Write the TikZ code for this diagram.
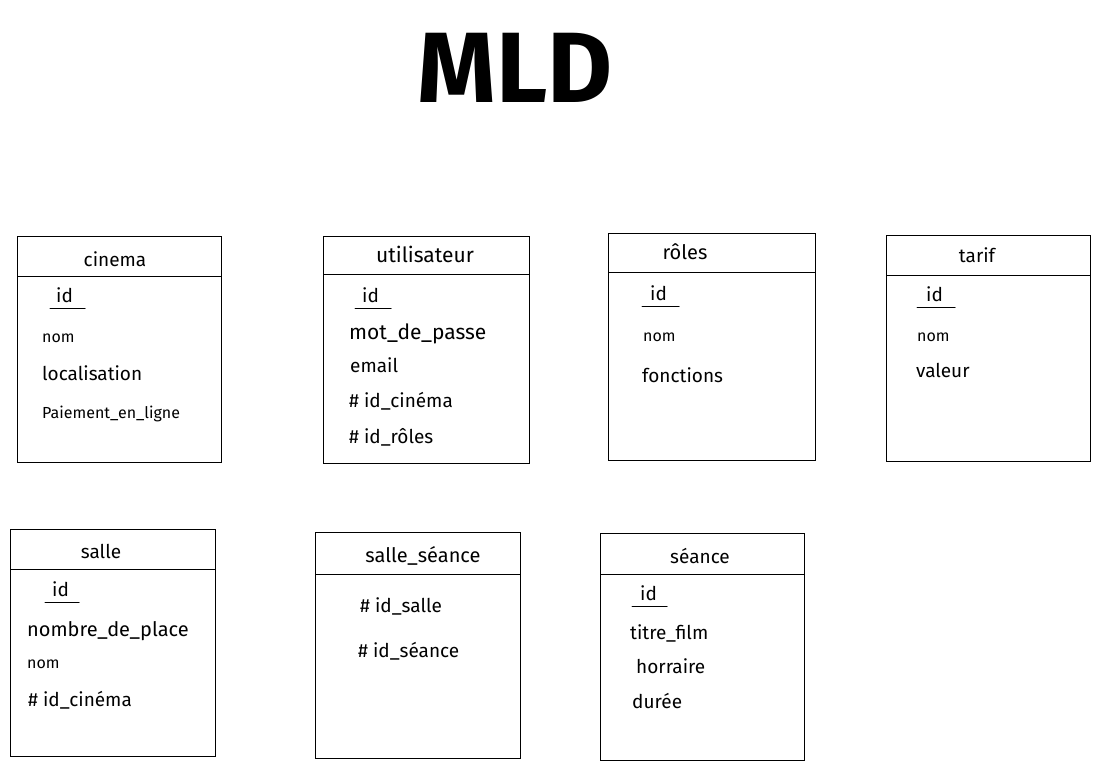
\documentclass[tikz,border=0pt]{standalone}
\usepackage{fontspec}
\setmainfont{Fira Sans}
\begin{document}
\begin{tikzpicture}[x=1pt,y=-1pt,
  tbl/.style={draw, line width=1pt, anchor=north west, inner sep=0pt, outer sep=0pt},
  hdr/.style={anchor=base, inner sep=0pt, font=\fontsize{19}{22}\selectfont},
  attr/.style={anchor=base west, inner sep=0pt, font=\fontsize{19}{22}\selectfont},
  small/.style={anchor=base west, inner sep=0pt, font=\fontsize{16}{18}\selectfont},
  pk/.style={line width=1pt, line cap=round},
  sep/.style={line width=1pt}]
\useasboundingbox[fill=white] (0,0) rectangle (1100,769);

% title
\node[anchor=base, inner sep=0pt, font=\fontsize{100}{110}\bfseries\selectfont] (title) at (515,102) {MLD};

% cinema
\node[tbl, minimum width=204pt, minimum height=226pt] (cinema) at (17,236) {};
\draw[sep] ([yshift=-40pt]cinema.north west) -- ([yshift=-40pt]cinema.north east);
\node[hdr] (cinema-h) at (115,266) {cinema};
\node[attr] (cinema-id) at (56,302) {id};
\draw[pk] ([xshift=-6pt,yshift=-6pt]cinema-id.base west) -- ([xshift=12pt,yshift=-6pt]cinema-id.base east);
\node[small] (cinema-nom) at (42,342) {nom};
\node[attr] (cinema-loc) at (42,380) {localisation};
\node[small] (cinema-pay) at (42,418) {Paiement\_en\_ligne};

% utilisateur
\node[tbl, minimum width=206pt, minimum height=227pt] (util) at (323,236) {};
\draw[sep] ([yshift=-38pt]util.north west) -- ([yshift=-38pt]util.north east);
\node[hdr, font=\fontsize{21}{24}\selectfont] (util-h) at (425,262) {utilisateur};
\node[attr] (util-id) at (362,302) {id};
\draw[pk] ([xshift=-7pt,yshift=-6pt]util-id.base west) -- ([xshift=12pt,yshift=-6pt]util-id.base east);
\node[attr, font=\fontsize{21}{24}\selectfont] (util-mdp) at (349,339) {mot\_de\_passe};
\node[attr] (util-email) at (350,372) {email};
\node[attr] (util-cin) at (349,407) {\# id\_cinéma};
\node[attr] (util-rol) at (349,443) {\# id\_rôles};

% roles
\node[tbl, minimum width=207pt, minimum height=227pt] (roles) at (608,233) {};
\draw[sep] ([yshift=-39pt]roles.north west) -- ([yshift=-39pt]roles.north east);
\node[hdr, font=\fontsize{20}{23}\selectfont] (roles-h) at (685,259) {rôles};
\node[attr] (roles-id) at (650,300) {id};
\draw[pk] ([xshift=-8pt,yshift=-6pt]roles-id.base west) -- ([xshift=12pt,yshift=-6pt]roles-id.base east);
\node[small] (roles-nom) at (643,341) {nom};
\node[attr] (roles-fon) at (642,382) {fonctions};

% tarif
\node[tbl, minimum width=204pt, minimum height=226pt] (tarif) at (886,235) {};
\draw[sep] ([yshift=-40pt]tarif.north west) -- ([yshift=-40pt]tarif.north east);
\node[hdr] (tarif-h) at (977,262) {tarif};
\node[attr] (tarif-id) at (926,301) {id};
\draw[pk] ([xshift=-9pt,yshift=-6pt]tarif-id.base west) -- ([xshift=12pt,yshift=-6pt]tarif-id.base east);
\node[small] (tarif-nom) at (917,341) {nom};
\node[attr] (tarif-val) at (916,377) {valeur};

% salle
\node[tbl, minimum width=205pt, minimum height=227pt] (salle) at (10,529) {};
\draw[sep] ([yshift=-40pt]salle.north west) -- ([yshift=-40pt]salle.north east);
\node[hdr] (salle-h) at (101,558) {salle};
\node[attr] (salle-id) at (52,596) {id};
\draw[pk] ([xshift=-7pt,yshift=-6pt]salle-id.base west) -- ([xshift=10pt,yshift=-6pt]salle-id.base east);
\node[attr, font=\fontsize{20}{23}\selectfont] (salle-nb) at (27,636) {nombre\_de\_place};
\node[small] (salle-nom) at (27,668) {nom};
\node[attr] (salle-cin) at (28,706) {\# id\_cinéma};

% salle_seance
\node[tbl, minimum width=205pt, minimum height=226pt] (ss) at (315,532) {};
\draw[sep] ([yshift=-42pt]ss.north west) -- ([yshift=-42pt]ss.north east);
\node[hdr, font=\fontsize{20}{23}\selectfont] (ss-h) at (423,562) {salle\_séance};
\node[attr] (ss-salle) at (360,612) {\# id\_salle};
\node[attr] (ss-seance) at (358,657) {\# id\_séance};

% seance
\node[tbl, minimum width=204pt, minimum height=227pt] (seance) at (600,533) {};
\draw[sep] ([yshift=-41pt]seance.north west) -- ([yshift=-41pt]seance.north east);
\node[hdr] (seance-h) at (700,563) {séance};
\node[attr] (seance-id) at (640,600) {id};
\draw[pk] ([xshift=-8pt,yshift=-6pt]seance-id.base west) -- ([xshift=10pt,yshift=-6pt]seance-id.base east);
\node[attr] (seance-titre) at (630,639) {titre\_film};
\node[attr] (seance-hor) at (636,673) {horraire};
\node[attr] (seance-dur) at (632,708) {durée};
\end{tikzpicture}
\end{document}
